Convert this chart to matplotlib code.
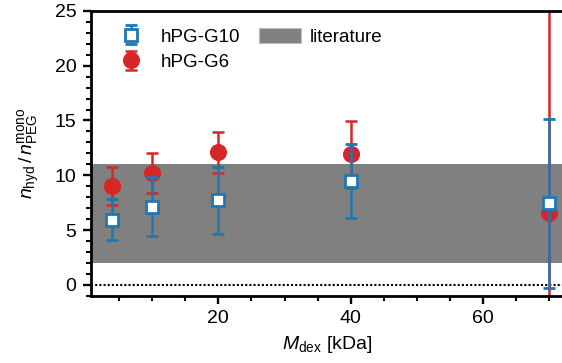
import numpy as np
import matplotlib.pyplot as plt
from matplotlib.patches import Patch
from matplotlib.ticker import MultipleLocator

plt.rcParams['font.family'] = ['Liberation Sans', 'DejaVu Sans']
plt.rcParams['mathtext.fontset'] = 'custom'
plt.rcParams['mathtext.rm'] = 'Liberation Sans'
plt.rcParams['mathtext.it'] = 'Liberation Sans:italic'
plt.rcParams['font.size'] = 13.5

# data
m_dex = [4, 10, 20, 40, 70]
g10 = [5.95, 7.15, 7.7, 9.5, 7.45]
g10_err = [1.85, 2.7, 3.1, 3.4, 7.7]
g6 = [9.0, 10.2, 12.1, 11.9, 6.6]
g6_err = [1.75, 1.85, 1.85, 3.05, 19.0]
lit_low, lit_high = 2.0, 11.0

blue = '#1f77b4'
red = '#d62728'

fig = plt.figure(figsize=(5.62, 3.63), dpi=100)
ax = fig.add_axes([0.162, 0.185, 0.84, 0.785])

ax.axhspan(lit_low, lit_high, color='#808080', lw=0, zorder=0)
ax.axhline(0, color='black', ls=(0, (1, 1)), lw=1.5, zorder=1)

h6 = ax.errorbar(m_dex, g6, yerr=g6_err, fmt='o', color=red, ms=11.3,
                 elinewidth=1.8, capsize=4, capthick=1.8, zorder=2)
h10 = ax.errorbar(m_dex, g10, yerr=g10_err, fmt='s', color=blue, mfc='white',
                  mec=blue, mew=2, ms=9.3, elinewidth=1.8, capsize=4, capthick=1.8,
                  zorder=3)
lit = Patch(facecolor='#808080', edgecolor='#bbbbbb', lw=0.8)

ax.legend([h10, h6, lit], ['hPG-G10', 'hPG-G6', 'literature'], ncol=2,
          loc='upper left', bbox_to_anchor=(0.025, 0.967), frameon=False,
          borderaxespad=0, handlelength=2.24, handleheight=0.85,
          labelspacing=0.4, columnspacing=1.0, handletextpad=0.45,
          fontsize=13.5)

ax.set_xlim(0.76, 72.1)
ax.set_ylim(-1, 25)
ax.xaxis.set_major_locator(MultipleLocator(20))
ax.xaxis.set_minor_locator(MultipleLocator(5))
ax.yaxis.set_major_locator(MultipleLocator(5))
ax.yaxis.set_minor_locator(MultipleLocator(1))

for s in ax.spines.values():
    s.set_linewidth(2.0)
ax.tick_params(which='major', length=5.5, width=1.7, labelsize=14, pad=5)
ax.tick_params(which='minor', length=3.5, width=1.5)

ax.set_xlabel(r'$M_\mathrm{dex}$ [kDa]', fontsize=14, labelpad=5)
ax.set_ylabel(r'$n_\mathrm{hyd}\,/\,n_\mathrm{PEG}^\mathrm{mono}$', fontsize=14, labelpad=9)

fig.savefig('out.png', dpi=100)
